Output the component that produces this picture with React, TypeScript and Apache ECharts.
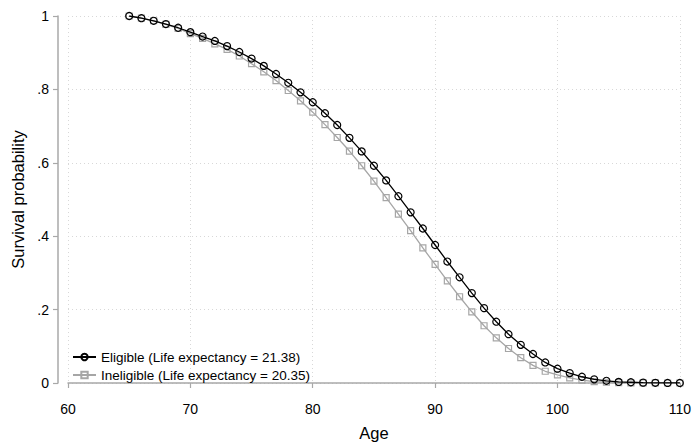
import React, { useEffect, useRef } from "react";
import * as echarts from "echarts";

const ages: number[] = [
  65, 66, 67, 68, 69, 70, 71, 72, 73, 74, 75, 76, 77, 78, 79, 80, 81, 82, 83, 84, 85, 86, 87,
  88, 89, 90, 91, 92, 93, 94, 95, 96, 97, 98, 99, 100, 101, 102, 103, 104, 105, 106, 107, 108,
  109, 110,
];
const eligible: number[] = [
  1.0, 0.994, 0.987, 0.978, 0.968, 0.956, 0.944, 0.932, 0.918, 0.902, 0.884, 0.864, 0.842,
  0.818, 0.792, 0.765, 0.735, 0.703, 0.668, 0.631, 0.592, 0.552, 0.509, 0.465, 0.421, 0.376,
  0.331, 0.288, 0.245, 0.204, 0.167, 0.133, 0.104, 0.079, 0.056, 0.039, 0.027, 0.017, 0.01,
  0.006, 0.003, 0.002, 0.001, 0.0005, 0.0002, 0.0001,
];
const ineligible: number[] = [
  1.0, 0.994, 0.987, 0.977, 0.966, 0.952, 0.939, 0.924, 0.909, 0.891, 0.87, 0.848, 0.824,
  0.797, 0.769, 0.738, 0.704, 0.669, 0.632, 0.592, 0.55, 0.505, 0.46, 0.415, 0.368, 0.323,
  0.278, 0.235, 0.194, 0.156, 0.123, 0.094, 0.069, 0.048, 0.032, 0.022, 0.014, 0.008, 0.004,
  0.002, 0.001, 0.0005, 0.0002, 0.0001, 0, 0,
];
const seriesNames: string[] = [
  "Eligible (Life expectancy = 21.38)",
  "Ineligible (Life expectancy = 20.35)",
];
const yTickLabels: Record<string, string> = { "0": "0", "0.2": ".2", "0.4": ".4", "0.6": ".6", "0.8": ".8", "1": "1" };

const FONT = "Liberation Sans, Arial, Helvetica, sans-serif";

export default function App() {
  const ref = useRef<HTMLDivElement>(null);
  useEffect(() => {
    document.body.style.margin = "0";
    if (!ref.current) return;
    const chart = echarts.init(ref.current, undefined, { renderer: "svg" });
    const black = "#000000";
    const gray = "#a6a6a6";
    chart.setOption({
      animation: false,
      backgroundColor: "#ffffff",
      textStyle: { fontFamily: FONT },
      grid: { left: 68, right: 14, top: 16, bottom: 58, containLabel: false },
      legend: {
        left: 67,
        top: 345,
        orient: "vertical",
        itemWidth: 23,
        itemHeight: 8,
        itemGap: 4,
        textStyle: { color: "#000", fontSize: 13.5, fontFamily: FONT },
        data: seriesNames,
      },
      xAxis: {
        type: "value",
        min: 60,
        max: 110,
        interval: 10,
        offset: 11,
        name: "Age",
        nameLocation: "middle",
        nameGap: 30,
        nameTextStyle: { color: "#000", fontSize: 16.5, fontFamily: FONT },
        axisLine: { show: true, lineStyle: { color: "#a8a8a8", width: 1.5 } },
        axisTick: { show: true, length: 5, lineStyle: { color: "#a8a8a8", width: 1.2 } },
        axisLabel: { color: "#000", fontSize: 14, margin: 8, fontFamily: FONT },
        splitLine: { show: true, lineStyle: { color: "#d8d8d8", type: [1, 3], width: 1 } },
      },
      yAxis: {
        type: "value",
        min: 0,
        max: 1,
        interval: 0.2,
        offset: 10,
        name: "Survival probability",
        nameLocation: "middle",
        nameGap: 32,
        nameTextStyle: { color: "#000", fontSize: 16.5, fontFamily: FONT },
        axisLine: { show: true, lineStyle: { color: "#a8a8a8", width: 1.5 } },
        axisTick: { show: true, length: 5, lineStyle: { color: "#a8a8a8", width: 1.2 } },
        axisLabel: {
          color: "#000",
          fontSize: 14,
          margin: 9,
          fontFamily: FONT,
          formatter: (v: number) => yTickLabels[String(Math.round(v * 10) / 10)] ?? String(v),
        },
        splitLine: { show: true, lineStyle: { color: "#d8d8d8", type: [1, 3], width: 1 } },
      },
      series: [
        {
          name: seriesNames[1],
          type: "line",
          data: ages.map((a, i) => [a, ineligible[i]]),
          symbol: "rect",
          symbolSize: 6,
          showAllSymbol: true,
          lineStyle: { color: gray, width: 1.3 },
          itemStyle: { color: "rgba(255,255,255,0)", borderColor: gray, borderWidth: 1.2 },
          z: 2,
        },
        {
          name: seriesNames[0],
          type: "line",
          data: ages.map((a, i) => [a, eligible[i]]),
          symbol: "circle",
          symbolSize: 7,
          showAllSymbol: true,
          lineStyle: { color: black, width: 1.3 },
          itemStyle: { color: "rgba(255,255,255,0)", borderColor: black, borderWidth: 1.2 },
          z: 3,
        },
      ],
    });
    return () => chart.dispose();
  }, []);
  return <div ref={ref} style={{ width: 694, height: 446 }} />;
}
